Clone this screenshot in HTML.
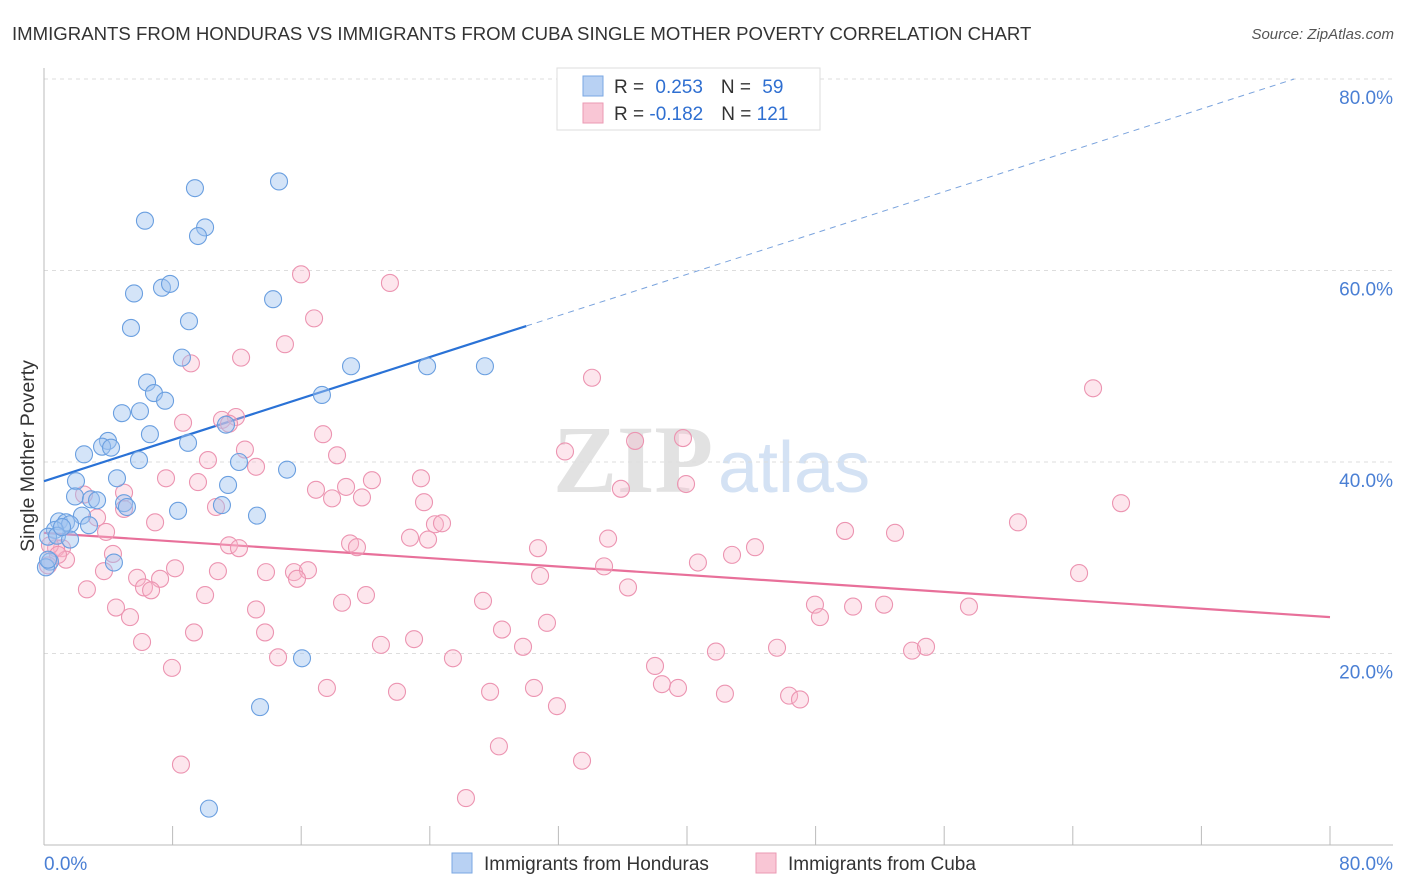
<!DOCTYPE html>
<html><head><meta charset="utf-8"><style>
body{margin:0;background:#fff;font-family:"Liberation Sans",sans-serif}
svg{display:block}
</style></head><body>
<svg id="chart" width="1406" height="892" xmlns="http://www.w3.org/2000/svg">
<text x="12" y="40" font-size="18.6" fill="#333">IMMIGRANTS FROM HONDURAS VS IMMIGRANTS FROM CUBA SINGLE MOTHER POVERTY CORRELATION CHART</text>
<text x="1394" y="39" font-size="15" fill="#555" font-style="italic" text-anchor="end">Source: ZipAtlas.com</text>
<g>
<text x="553" y="492" font-size="96" font-family="Liberation Serif" fill="#e2e2e2" font-weight="bold">ZIP</text>
<text x="718" y="492" font-size="72" fill="#d4e2f4">atlas</text>
</g>
<g id="grid"></g>
<g id="axes"></g>
<g id="lines"></g>
<g id="points"></g>
<text x="34" y="456" font-size="19.5" fill="#333" text-anchor="middle" transform="rotate(-90 34 456)">Single Mother Poverty</text>
<g>
<rect x="557" y="68" width="263" height="62" fill="#fff" stroke="#ddd"/>
<rect x="583" y="76" width="20" height="20" fill="#b8d1f3" stroke="#7aa7e3"/>
<rect x="583" y="103" width="20" height="20" fill="#f9c6d5" stroke="#eb9ab3"/>
<text x="614" y="93" font-size="19" fill="#333">R = <tspan fill="#2f6fd1" dx="6">0.253</tspan><tspan dx="18" fill="#333">N = </tspan><tspan dx="6" fill="#2f6fd1">59</tspan></text>
<text x="614" y="120" font-size="19" fill="#333">R = <tspan fill="#2f6fd1">-0.182</tspan><tspan dx="18" fill="#333">N = </tspan><tspan fill="#2f6fd1">121</tspan></text>
</g>
<g>
<rect x="452" y="853" width="20" height="20" fill="#b8d1f3" stroke="#7aa7e3"/>
<text x="484" y="870" font-size="19" fill="#333">Immigrants from Honduras</text>
<rect x="756" y="853" width="20" height="20" fill="#f9c6d5" stroke="#eb9ab3"/>
<text x="788" y="870" font-size="19" fill="#333">Immigrants from Cuba</text>
</g>
</svg>
<script>
const hondurasX=[9.39,14.62,6.28,10.02,9.58,5.60,7.34,7.84,14.25,5.41,9.02,8.58,19.10,23.83,27.43,6.41,6.84,7.53,4.85,5.97,17.29,6.59,11.32,3.98,3.61,4.17,8.96,2.49,5.91,12.13,15.12,4.54,1.99,11.45,1.93,2.92,3.30,4.98,5.16,11.07,8.34,13.25,2.36,0.93,1.37,1.62,2.80,0.68,0.25,0.81,1.62,4.35,0.37,16.05,13.44,10.26,0.12,1.12,0.25];
const hondurasY=[68.6,69.3,65.2,64.5,63.6,57.6,58.2,58.6,57.0,54.0,54.7,50.9,50.0,50.0,50.0,48.3,47.2,46.4,45.1,45.3,47.0,42.9,43.9,42.2,41.6,41.5,42.0,40.8,40.2,40.0,39.2,38.3,38.0,37.6,36.4,36.1,36.0,35.7,35.3,35.5,34.9,34.4,34.4,33.8,33.7,33.5,33.4,32.9,32.2,32.3,31.9,29.5,29.6,19.5,14.4,3.8,29.0,33.2,29.8];
const cubaX=[15.99,21.52,16.80,14.99,12.26,9.14,34.09,65.26,8.65,11.07,11.94,11.51,17.36,36.77,39.75,32.41,12.50,18.23,10.20,13.19,7.59,9.58,20.40,23.45,18.79,16.92,17.92,35.89,39.94,4.98,2.49,19.78,23.64,10.70,4.98,3.30,6.91,24.32,24.76,60.59,67.00,3.86,49.83,52.94,22.77,23.89,35.09,11.51,19.04,19.47,30.73,44.23,4.29,12.13,42.80,40.68,34.84,1.12,0.75,0.37,1.37,0.87,8.15,10.82,13.81,15.55,16.42,3.73,15.74,5.79,7.22,6.22,6.66,30.86,64.39,36.33,2.67,10.02,20.03,18.54,13.19,27.31,4.48,5.35,47.96,50.33,52.26,57.54,48.27,31.29,28.49,9.33,13.75,23.02,20.96,6.10,29.80,41.80,45.60,54.00,54.87,14.56,25.44,38.01,7.96,38.44,39.44,17.60,21.96,27.75,30.48,42.36,46.35,47.03,31.91,28.30,33.47,8.52,26.25,0.25];
const cubaY=[59.6,58.7,55.0,52.3,50.9,50.3,48.8,47.7,44.1,44.4,44.7,44.0,42.9,42.2,42.5,41.1,41.3,40.7,40.2,39.5,38.3,37.9,38.1,38.3,37.4,37.1,36.2,37.2,37.7,36.8,36.6,36.3,35.8,35.3,35.1,34.2,33.7,33.5,33.6,33.7,35.7,32.7,32.8,32.6,32.1,31.9,32.0,31.3,31.5,31.1,31.0,31.1,30.4,31.0,30.3,29.5,29.1,31.0,31.0,31.3,29.8,30.3,28.9,28.6,28.5,28.5,28.7,28.6,27.8,27.9,27.8,26.9,26.6,28.1,28.4,26.9,26.7,26.1,26.1,25.3,24.6,25.5,24.8,23.8,25.1,24.9,25.1,24.9,23.8,23.2,22.5,22.2,22.2,21.5,20.9,21.2,20.7,20.2,20.6,20.3,20.7,19.6,19.5,18.7,18.5,16.8,16.4,16.4,16.0,16.0,16.4,15.8,15.6,15.2,14.5,10.3,8.8,8.4,4.9,29.2];
const hondurasTrend=[38.0,0.54];   // intercept, slope
const cubaTrend=[32.6,-0.11];
const yTicks=[20,40,60,80];
const yTickLabels=["20.0%","40.0%","60.0%","80.0%"];
const xTicks=[0,8,16,24,32,40,48,56,64,72,80];

const NS="http://www.w3.org/2000/svg";
const X0=44,X1=1330,Y0=845,Y1=79;
const sx=v=>X0+v/80*(X1-X0);
const sy=v=>Y0-v/80*(Y0-Y1);
function mk(tag,attrs,parent){const e=document.createElementNS(NS,tag);for(const k in attrs)e.setAttribute(k,attrs[k]);parent.appendChild(e);return e;}
const grid=document.getElementById('grid'),axes=document.getElementById('axes'),lines=document.getElementById('lines'),pts=document.getElementById('points');
yTicks.forEach((t,i)=>{
 const l=mk('line',{x1:X0,x2:1393,y1:sy(t),y2:sy(t),stroke:'#ddd','stroke-dasharray':'4,4'},grid);
 
 
 const tx=mk('text',{x:1393,y:sy(t)+25,'font-size':19,fill:'#4a7fd4','text-anchor':'end'},axes);
 tx.textContent=yTickLabels[i];
 
 
});
const ya=mk('line',{x1:X0,x2:X0,y1:68,y2:Y0,stroke:'#bbb'},axes);


const xa=mk('line',{x1:X0,x2:1393,y1:Y0,y2:Y0,stroke:'#bbb'},axes);


xTicks.forEach(t=>{const tk=mk('line',{x1:sx(t),x2:sx(t),y1:826,y2:Y0,stroke:'#bbb'},axes);
 
 });
const xl0=mk('text',{x:44,y:870,'font-size':19,fill:'#4a7fd4'},axes);xl0.textContent='0.0%';


const xl1=mk('text',{x:1393,y:870,'font-size':19,fill:'#4a7fd4','text-anchor':'end'},axes);xl1.textContent='80.0%';



function drawPts(xs,ys,fill,stroke,name){
 xs.forEach((x,i)=>{const c=mk('circle',{cx:sx(x),cy:sy(ys[i]),r:8.5,fill:fill,stroke:stroke,'stroke-width':1.1},pts);
 
 });
}
drawPts(cubaX,cubaY,'rgba(248,182,202,0.35)','#ec94b1','point-cuba');
drawPts(hondurasX,hondurasY,'rgba(160,195,240,0.45)','#6a9fe0','point-honduras');

const hb=hondurasTrend;
const bl=mk('line',{x1:sx(0),y1:sy(hb[0]),x2:sx(30),y2:sy(hb[0]+hb[1]*30),stroke:'#2a72d6','stroke-width':2.2},lines);


const xe=(80-hb[0])/hb[1];
const bd=mk('line',{x1:sx(30),y1:sy(hb[0]+hb[1]*30),x2:sx(xe),y2:sy(80),stroke:'#7aa3dd','stroke-width':1,'stroke-dasharray':'6,5'},lines);


const cb=cubaTrend;
const pl=mk('line',{x1:sx(0),y1:sy(cb[0]),x2:sx(80),y2:sy(cb[0]+cb[1]*80),stroke:'#e8709a','stroke-width':2.2},lines);


</script>
</body></html>
